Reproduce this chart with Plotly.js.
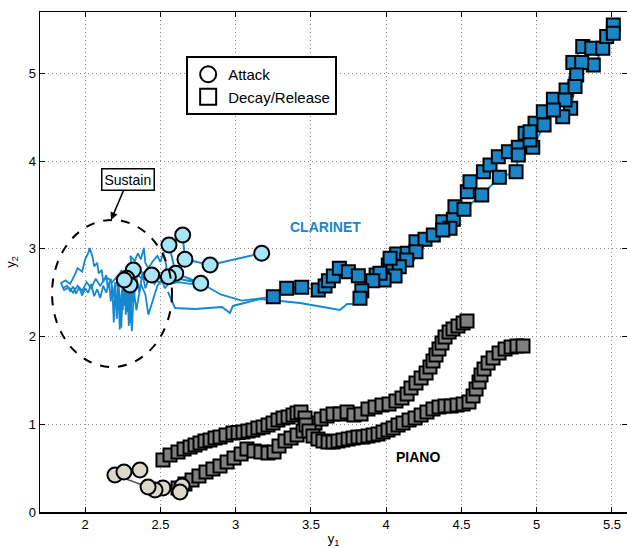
<!DOCTYPE html>
<html><head><meta charset="utf-8">
<script src="https://cdn.plot.ly/plotly-3.0.1.min.js"></script>
<style>body{margin:0;background:#fff}#c{width:627px;height:548px}</style>
</head><body><div id="c"></div>
<script>
// ---- Clarinet ----
const clarAttackX = [3.173,2.83,2.663,2.648,2.557,2.602,2.768,2.553,2.442,2.32,2.276,2.298,2.26];
const clarAttackY = [2.95,2.816,2.881,3.158,3.044,2.722,2.608,2.683,2.702,2.759,2.665,2.588,2.645];

const clarSustainX = [2.26,2.22,2.18,2.14,2.10,2.07,2.04,2.01,1.98,1.95,1.92,1.89,1.86,1.84,1.87,1.90,1.93,1.95,1.98,2.00,2.02,2.03,2.05,2.06,2.08,2.09,2.11,2.12,2.14,2.15,2.17,2.19,2.20,2.21,2.22,2.23,2.24,2.25,2.26,2.27,2.28,2.29,2.30,2.31,2.32,2.33,2.31,2.30,2.33,2.35,2.37,2.39,2.40,2.42,2.45,2.48,2.50,2.52,2.54,2.52,2.48,2.45,2.42,2.40,2.37,2.34,2.31,2.28,2.25,2.23,2.21,2.24,2.28,2.33,2.38,2.44,2.50,2.56,2.62,2.70,2.77,2.90,3.04,3.15,3.25];
const clarSustainY = [2.65,2.70,2.62,2.68,2.58,2.66,2.55,2.62,2.52,2.58,2.50,2.56,2.53,2.61,2.64,2.60,2.70,2.78,2.74,2.88,2.95,3.01,2.90,2.80,2.84,2.72,2.76,2.62,2.70,2.55,2.66,2.45,2.62,2.20,2.55,2.08,2.48,2.30,2.70,2.25,2.60,2.12,2.50,2.06,2.40,2.62,2.80,2.92,2.86,2.95,2.88,3.01,2.84,2.78,2.86,2.92,2.85,2.96,2.80,2.66,2.58,2.40,2.25,2.48,2.60,2.30,2.72,2.80,2.58,2.35,2.66,2.75,2.68,2.72,2.66,2.64,2.62,2.60,2.62,2.60,2.61,2.48,2.41,2.43,2.455];

const clarSustain2X = [1.85,1.88,1.90,1.92,1.94,1.96,1.98,2.00,2.02,2.04,2.06,2.08,2.10,2.12,2.14,2.16,2.17,2.18,2.19,2.20,2.21,2.22,2.23,2.24,2.25,2.26,2.27,2.26,2.28,2.29,2.30,2.31,2.32,2.34,2.36,2.38,2.40,2.43,2.46,2.50,2.53,2.56];
const clarSustain2Y = [2.55,2.58,2.52,2.57,2.49,2.56,2.47,2.55,2.50,2.60,2.46,2.54,2.44,2.58,2.50,2.62,2.40,2.58,2.16,2.52,2.30,2.64,2.40,2.10,2.55,2.35,2.72,2.50,2.28,2.60,2.15,2.55,2.38,2.68,2.50,2.72,2.55,2.70,2.60,2.68,2.55,2.62];

const clarTailX = [2.55,2.597,2.73,2.909,2.962,2.982,3.162,3.428,3.693,3.74,3.826,3.826];
const clarTailY = [2.509,2.326,2.315,2.338,2.269,2.349,2.429,2.383,2.303,2.372,2.372,2.437];

const clarDecayX = [3.25,3.339,3.439,3.549,3.594,3.616,3.649,3.689,3.749,3.815,3.933,4.014,4.07,4.14,4.198,4.258,4.313,4.376,4.446,4.457,4.539,4.557,4.646,4.69,4.745,4.812,4.878,4.923,4.989,5.044,5.111,5.195,5.24,5.306,5.366,5.439,5.465,5.509,
  5.509,5.376,5.299,5.266,5.255,5.226,5.188,5.173,5.111,5.049,4.974,4.956,4.956,4.878,4.863,4.752,4.635,4.517,4.424,4.376,4.198,4.136,4.087,4.059,4.026,3.986,3.959,3.911,3.838,3.826];
const clarDecayY = [2.455,2.551,2.562,2.531,2.577,2.637,2.691,2.779,2.74,2.694,2.702,2.816,2.942,2.95,3.082,3.109,3.158,3.31,3.337,3.481,3.652,3.766,3.88,3.957,4.051,4.108,4.159,4.318,4.432,4.564,4.706,4.812,5.123,5.306,5.287,5.287,5.42,5.553,
  5.458,5.097,5.123,4.983,4.85,4.603,4.698,4.507,4.584,4.413,4.159,4.242,4.336,4.071,3.88,3.816,3.615,3.452,3.235,3.215,2.968,2.873,2.797,2.691,2.893,2.645,2.722,2.637,2.523,2.437];

// ---- Piano ----
const pianoAttackX = [2.644,2.63,2.517,2.464,2.418,2.198,2.258,2.364];
const pianoAttackY = [0.296,0.228,0.274,0.251,0.285,0.422,0.456,0.479];

const pianoPath1X = [2.617,2.663,2.710,2.756,2.803,2.849,2.896,2.943,2.989,3.036,3.075,3.122,3.168,3.215,3.255,3.288,3.328,3.368,3.408,3.448,3.487,3.527,3.567,3.607,3.647,3.693,3.740,3.786,3.833,3.879,3.926,3.972,4.019,4.065,4.105,4.139,4.165,4.198,4.232,4.265,4.291,4.311,4.331,4.351,4.371,4.391,4.418,4.444,4.477,4.511,4.537];
const pianoPath1Y = [0.274,0.319,0.365,0.411,0.456,0.490,0.525,0.570,0.616,0.661,0.718,0.696,0.684,0.673,0.684,0.753,0.810,0.844,0.878,0.924,0.969,1.015,1.060,1.095,1.117,1.117,1.140,1.106,1.117,1.175,1.197,1.220,1.232,1.266,1.300,1.346,1.414,1.471,1.528,1.585,1.653,1.722,1.790,1.859,1.927,1.996,2.053,2.087,2.121,2.155,2.178];

const pianoPath2X = [2.517,2.564,2.617,2.657,2.697,2.730,2.763,2.796,2.830,2.863,2.896,2.936,2.982,3.016,3.049,3.082,3.115,3.148,3.182,3.215,3.248,3.281,3.315,3.348,3.381,3.408,3.434,3.461,3.467,3.487,3.514,3.547,3.580,3.614,3.647,3.680,3.713,3.747,3.780,3.813,3.846,3.879,3.913,3.946,3.979,4.012,4.046,4.079,4.112,4.152,4.192,4.232,4.271,4.311,4.351,4.391,4.431,4.471,4.511,4.550,4.577,4.597,4.617,4.630,4.650,4.677,4.710,4.750,4.790,4.830,4.869,4.909];
const pianoPath2Y = [0.593,0.650,0.684,0.718,0.741,0.764,0.787,0.810,0.821,0.844,0.855,0.878,0.901,0.905,0.912,0.924,0.935,0.958,0.969,0.992,1.015,1.049,1.072,1.083,1.106,1.129,1.140,1.072,0.992,0.924,0.867,0.832,0.810,0.798,0.798,0.810,0.821,0.832,0.844,0.855,0.855,0.867,0.878,0.889,0.912,0.935,0.958,0.992,1.015,1.049,1.072,1.106,1.140,1.175,1.197,1.209,1.209,1.220,1.232,1.254,1.323,1.403,1.482,1.562,1.631,1.699,1.756,1.813,1.859,1.881,1.893,1.893];

const xTicks = [2,2.5,3,3.5,4,4.5,5,5.5];
const xTickText = ['2','2.5','3','3.5','4','4.5','5','5.5'];
const yTicks = [0,1,2,3,4,5];

const BLUE = '#1588cf', BLUE_SQ = '#1a86c8', CYAN = '#a6e6f8', GRAY = '#7f7f7f', LIGHT = '#dcd8cc';

const traces = [
  {x: pianoPath1X, y: pianoPath1Y, mode: 'lines+markers', showlegend: false,
   line: {color: '#333', width: 1.5},
   marker: {symbol: 'square', size: 13, color: GRAY, line: {color: '#000', width: 2}}},
  {x: pianoPath2X, y: pianoPath2Y, mode: 'lines+markers', showlegend: false,
   line: {color: '#333', width: 1.5},
   marker: {symbol: 'square', size: 13, color: GRAY, line: {color: '#000', width: 2}}},
  {x: pianoAttackX, y: pianoAttackY, mode: 'lines+markers', showlegend: false,
   line: {color: '#555', width: 1.5},
   marker: {symbol: 'circle', size: 15, color: LIGHT, line: {color: '#000', width: 2}}},
  {x: clarSustain2X, y: clarSustain2Y, mode: 'lines', showlegend: false,
   line: {color: BLUE, width: 1.8}},
  {x: clarSustainX, y: clarSustainY, mode: 'lines', showlegend: false,
   line: {color: BLUE, width: 1.8}},
  {x: clarTailX, y: clarTailY, mode: 'lines', showlegend: false,
   line: {color: BLUE, width: 2}},
  {x: clarDecayX, y: clarDecayY, mode: 'lines+markers', showlegend: false,
   line: {color: BLUE, width: 2},
   marker: {symbol: 'square', size: 13, color: BLUE_SQ, line: {color: '#000', width: 2}}},
  {x: clarAttackX, y: clarAttackY, mode: 'lines+markers', showlegend: false,
   line: {color: BLUE, width: 2},
   marker: {symbol: 'circle', size: 15, color: CYAN, line: {color: '#000', width: 2}}},
  {x: [null], y: [null], mode: 'markers', name: 'Attack',
   marker: {symbol: 'circle-open', size: 16, color: '#000', line: {width: 2}}},
  {x: [null], y: [null], mode: 'markers', name: 'Decay/Release',
   marker: {symbol: 'square-open', size: 16, color: '#000', line: {width: 2}}}
];

const FONT = 'Liberation Sans, Arial, sans-serif';
const layout = {
  width: 627, height: 548,
  margin: {l: 40, r: 0, t: 12, b: 36},
  paper_bgcolor: '#fff', plot_bgcolor: '#fff',
  font: {family: FONT, size: 13, color: '#000'},
  xaxis: {range: [1.7, 5.6], tickvals: xTicks, ticktext: xTickText,
    showgrid: true, gridcolor: '#8c8c8c', griddash: '1px,3px', gridwidth: 1,
    zeroline: false, showline: true, linecolor: '#000', linewidth: 1.5, mirror: 'ticks',
    ticks: 'inside', ticklen: 5, tickcolor: '#000',
    title: {text: 'y<sub>1</sub>', font: {size: 13}, standoff: 4}},
  yaxis: {range: [0, 5.7], tickvals: yTicks,
    showgrid: true, gridcolor: '#8c8c8c', griddash: '1px,3px', gridwidth: 1,
    zeroline: false, showline: true, linecolor: '#000', linewidth: 1.5, mirror: 'ticks',
    ticks: 'inside', ticklen: 5, tickcolor: '#000',
    title: {text: 'y<sub>2</sub>', font: {size: 13}, standoff: 10}},
  showlegend: true,
  legend: {x: 0.249, y: 0.912, xanchor: 'left', yanchor: 'top',
    bordercolor: '#000', borderwidth: 2, bgcolor: '#fff',
    font: {family: FONT, size: 15}, itemsizing: 'trace', tracegroupgap: 2,
    itemwidth: 30},
  shapes: [
    {type: 'circle', xref: 'x', yref: 'y', x0: 1.78, x1: 2.577, y0: 1.653, y1: 3.33,
     line: {color: '#000', width: 2, dash: 'dash'}}
  ],
  annotations: [
    {x: 2.172, y: 3.33, xref: 'x', yref: 'y', text: 'Sustain', showarrow: true,
     ax: 17, ay: -40, arrowhead: 2, arrowsize: 1, arrowwidth: 1.5, arrowcolor: '#000',
     bordercolor: '#000', borderwidth: 1.5, borderpad: 2, bgcolor: '#fff',
     font: {family: FONT, size: 14, color: '#000'}},
    {x: 3.594, y: 3.25, xref: 'x', yref: 'y', text: '<b>CLARINET</b>', showarrow: false,
     font: {family: FONT, size: 14, color: BLUE}},
    {x: 4.21, y: 0.627, xref: 'x', yref: 'y', text: '<b>PIANO</b>', showarrow: false,
     font: {family: FONT, size: 14, color: '#000'}}
  ]
};
Plotly.newPlot('c', traces, layout, {displayModeBar: false, staticPlot: true});
</script></body></html>
